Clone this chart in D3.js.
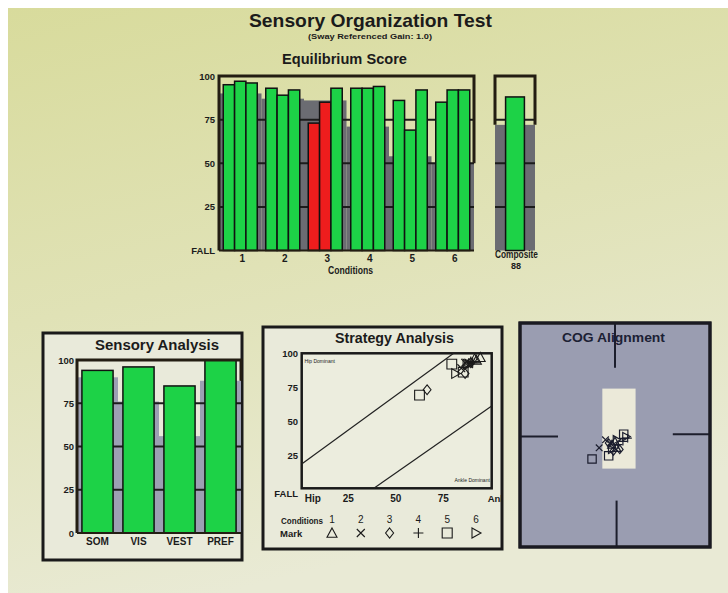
<!DOCTYPE html>
<html>
<head>
<meta charset="utf-8">
<script src="https://cdn.jsdelivr.net/npm/d3@7"></script>
<style>
  html, body { margin: 0; padding: 0; background: #fff; }
  svg { display: block; }
</style>
</head>
<body>
<script>

const conditions = ["1", "2", "3", "4", "5", "6"];
const trials = [0, 1, 2];
// equilibrium score per condition, 3 trials each
const eqScores = [
  [95, 97, 96], [93, 89, 92], [73, 85, 93],
  [93, 93, 94], [86, 69, 92], [85, 92, 92]
];
// normative limits (the grey steps)
const eqNorms = [90, 87, 86, 71, 54, 50];
const compositeScore = 88;
const compositeNorm = 72;
const scoreTicks = [0, 25, 50, 75, 100];
const scoreTickLabels = ["FALL", "25", "50", "75", "100"];

const sensoryLabels = ["SOM", "VIS", "VEST", "PREF"];
const sensoryScores = [94, 96, 85, 100];
const sensoryNorms = [90, 76, 56, 88];
const sensoryTickLabels = ["0", "25", "50", "75", "100"];

// strategy score (x) per condition / trial, y is the equilibrium score
const strategyScores = [
  [92, 94, 91], [86, 84, 88], [66, 86, 89],
  [88, 90, 89], [85, 62, 79], [81, 88, 87]
];
const strategyTickLabels = ["Hip", "25", "50", "75", "Ankle"];
const hipLine = [[0, 18], [80, 100]];
const ankleLine = [[38, 0], [100, 61]];
const markNames = ["triangle", "times", "diamond", "plus", "square", "right"];

// COG position per condition / trial
const cogXs = [
  [-0.2, 0.0, 0.1], [-0.6, -0.3, -1.0], [-0.4, 0.3, -0.1],
  [0.5, 0.8, 0.2], [-1.45, -0.4, 0.55], [0.7, 0.1, -0.2]
];
const cogYs = [
  [-0.6, -0.4, -0.8], [-0.3, -0.5, -0.8], [-0.5, -0.9, -1.0],
  [-0.4, -0.2, -0.6], [-1.5, -1.3, 0.05], [-0.1, -0.3, -0.9]
];
const cogNormalX = [-0.8, 1.3];
const cogNormalY = [-2.1, 2.9];

const W = 728, H = 593;
const ink = "#1b1b1b";
const green = "#1dd247";
const red = "#ee1d1d";
const narrow = "'Liberation Sans Narrow', 'Liberation Sans', Arial, sans-serif";
const bold = "'Liberation Sans', Arial, sans-serif";

let svg = null;

// open-marker shapes for d3.symbol
const symbolTypes = {
  triangle: { draw(c, s) { const r = Math.sqrt(s) / 2; c.moveTo(0, -r); c.lineTo(r, r * 0.85); c.lineTo(-r, r * 0.85); c.closePath(); } },
  times: { draw(c, s) { const r = Math.sqrt(s) / 2 * 0.8; c.moveTo(-r, -r); c.lineTo(r, r); c.moveTo(r, -r); c.lineTo(-r, r); } },
  diamond: { draw(c, s) { const r = Math.sqrt(s) / 2; c.moveTo(0, -r); c.lineTo(r * 0.8, 0); c.lineTo(0, r); c.lineTo(-r * 0.8, 0); c.closePath(); } },
  plus: { draw(c, s) { const r = Math.sqrt(s) / 2; c.moveTo(-r, 0); c.lineTo(r, 0); c.moveTo(0, -r); c.lineTo(0, r); } },
  square: { draw(c, s) { const r = Math.sqrt(s) / 2; c.rect(-r, -r, 2 * r, 2 * r); } },
  right: { draw(c, s) { const r = Math.sqrt(s) / 2; c.moveTo(-r * 0.8, -r); c.lineTo(r, 0); c.lineTo(-r * 0.8, r); c.closePath(); } }
};

appendSvg();
drawTitles();
drawEquilibrium();
drawComposite();
drawSensory();
drawStrategy();
drawCog();

function text(g, x, y, str, o) {
  o = o || {};
  const t = g.append("text")
    .attr("x", x).attr("y", y)
    .attr("text-anchor", o.anchor || "middle")
    .attr("font-family", o.family || narrow)
    .attr("font-weight", o.weight || "bold")
    .attr("font-size", o.size || 9)
    .attr("fill", o.fill || ink)
    .text(str);
  if (o.len) t.attr("textLength", o.len).attr("lengthAdjust", "spacingAndGlyphs");
  return t;
}

function appendSvg() {
  svg = d3.select("body").append("svg").attr("width", W).attr("height", H);
  const defs = svg.append("defs");
  const grad = defs.append("linearGradient").attr("id", "bg")
    .attr("x1", 0).attr("y1", 0).attr("x2", 0.3).attr("y2", 1);
  grad.append("stop").attr("offset", 0).attr("stop-color", "#d8db9c");
  grad.append("stop").attr("offset", 0.5).attr("stop-color", "#e0e2b6");
  grad.append("stop").attr("offset", 1).attr("stop-color", "#e9ead5");
  svg.append("rect").attr("width", W).attr("height", H).attr("fill", "#fff");
  svg.append("rect").attr("x", 8).attr("y", 8).attr("width", W - 8).attr("height", H - 8)
    .attr("fill", "url(#bg)");
}

function drawTitles() {
  text(svg, 370.5, 27, "Sensory Organization Test", { family: bold, size: 19, len: 243 });
  text(svg, 370, 38.5, "(Sway Referenced Gain: 1.0)", { family: narrow, size: 7.5, len: 124 });
  text(svg, 344.5, 64, "Equilibrium Score", { family: bold, size: 15, len: 125 });
}

function normSteps(g, x, y, norms, keys, left, right, fill) {
  // grey normative area: one step per band, split mid-gap
  const half = x.step() * x.paddingInner() / 2;
  g.append("g").selectAll("rect").data(keys).join("rect")
    .attr("x", (d, i) => i === 0 ? left : x(d) - half)
    .attr("width", (d, i) => {
      const x0 = i === 0 ? left : x(d) - half;
      const x1 = i === keys.length - 1 ? right : x(d) + x.bandwidth() + half;
      return x1 - x0;
    })
    .attr("y", (d, i) => y(norms[i]))
    .attr("height", (d, i) => y(0) - y(norms[i]))
    .attr("fill", fill);
}

function gridLines(g, y, left, right) {
  g.append("g").selectAll("line").data([25, 50, 75]).join("line")
    .attr("x1", left).attr("x2", right)
    .attr("y1", d => y(d)).attr("y2", d => y(d))
    .attr("stroke", "#1c1c1c").attr("stroke-width", 2);
}

function frame(g, y, left, right, lastNorm, w) {
  const sw = w || 3;
  g.append("path")
    .attr("d", `M${left},${y(0)} V${y(100)} H${right} V${y(lastNorm)}`)
    .attr("fill", "none").attr("stroke", "#231d12").attr("stroke-width", sw);
  g.append("line").attr("x1", left).attr("x2", right).attr("y1", y(0)).attr("y2", y(0))
    .attr("stroke", "#231d12").attr("stroke-width", 2);
}

function drawEquilibrium() {
  const g = svg.append("g");
  const left = 219, right = 474;
  const x = d3.scaleBand().domain(conditions).range([left, right]).paddingInner(0.2).paddingOuter(0.1);
  const xt = d3.scaleBand().domain(trials).range([0, x.bandwidth()]);
  const y = d3.scaleLinear().domain([0, 100]).range([250.5, 76]);

  normSteps(g, x, y, eqNorms, conditions, left, right, "#6b6c72");
  gridLines(g, y, left, right);

  conditions.forEach((c, ci) => {
    g.append("g").selectAll("rect").data(eqScores[ci]).join("rect")
      .attr("x", (d, i) => x(c) + xt(i))
      .attr("width", xt.bandwidth())
      .attr("y", d => y(d))
      .attr("height", d => y(0) - y(d))
      .attr("fill", d => d < eqNorms[ci] ? red : green)
      .attr("stroke", "#111").attr("stroke-width", 1.5);
  });

  frame(g, y, left, right, eqNorms[eqNorms.length - 1]);

  scoreTicks.forEach((t, i) => {
    text(g, 215, y(t) + 3.5, scoreTickLabels[i], { anchor: "end", size: 9.5 });
  });
  conditions.forEach(c => {
    text(g, x(c) + x.bandwidth() / 2 + 2, 262, c, { size: 10 });
  });
  text(g, 350.5, 274, "Conditions", { size: 10, len: 45 });
}

function drawComposite() {
  const g = svg.append("g");
  const left = 495, right = 535;
  const x = d3.scaleBand().domain(["Composite"]).range([left, right]).padding(0.36);
  const y = d3.scaleLinear().domain([0, 100]).range([250.5, 76]);

  g.append("rect").attr("x", left).attr("width", right - left)
    .attr("y", y(compositeNorm)).attr("height", y(0) - y(compositeNorm))
    .attr("fill", "#6b6c72");
  gridLines(g, y, left, right);
  g.append("rect").attr("x", x("Composite")).attr("width", x.bandwidth())
    .attr("y", y(compositeScore)).attr("height", y(0) - y(compositeScore))
    .attr("fill", green).attr("stroke", "#111").attr("stroke-width", 1.5);
  g.append("path")
    .attr("d", `M${left},${y(compositeNorm)} V${y(100)} H${right} V${y(compositeNorm)}`)
    .attr("fill", "none").attr("stroke", "#231d12").attr("stroke-width", 3);

  text(g, 516.5, 258, "Composite", { size: 10, len: 43 });
  text(g, 516, 269, String(compositeScore), { size: 9 });
}

function panel(x0, y0, x1, y1, fill) {
  return svg.append("rect").attr("x", x0).attr("y", y0)
    .attr("width", x1 - x0).attr("height", y1 - y0)
    .attr("fill", fill).attr("stroke", "#1a1a1a").attr("stroke-width", 3);
}

function drawSensory() {
  panel(43, 333, 242, 560, "#e9eada");
  const g = svg.append("g");
  text(g, 157, 350, "Sensory Analysis", { family: bold, size: 14, len: 124 });

  const left = 77, right = 241;
  const x = d3.scaleBand().domain(sensoryLabels).range([left, right]).paddingInner(0.24).paddingOuter(0.12);
  const y = d3.scaleLinear().domain([0, 100]).range([533, 360]);

  normSteps(g, x, y, sensoryNorms, sensoryLabels, left, right, "#9ca0b3");
  gridLines(g, y, left, right);

  g.append("g").selectAll("rect").data(sensoryLabels).join("rect")
    .attr("x", d => x(d)).attr("width", x.bandwidth())
    .attr("y", (d, i) => y(sensoryScores[i]))
    .attr("height", (d, i) => y(0) - y(sensoryScores[i]))
    .attr("fill", green).attr("stroke", "#111").attr("stroke-width", 1.5);

  frame(g, y, left, right, sensoryNorms[sensoryNorms.length - 1]);

  scoreTicks.forEach((t, i) => {
    text(g, 74, y(t) + 3.5, sensoryTickLabels[i], { anchor: "end", size: 9.5 });
  });
  sensoryLabels.forEach(d => {
    text(g, x(d) + x.bandwidth() / 2, 545, d, { size: 10 });
  });
}

function drawStrategy() {
  panel(263, 327, 502, 549, "#e9eada");
  const g = svg.append("g");
  text(g, 394.5, 343, "Strategy Analysis", { family: bold, size: 14, len: 119 });

  svg.select("defs").append("clipPath").attr("id", "stratClip")
    .append("rect").attr("x", 263).attr("y", 327).attr("width", 239).attr("height", 222);

  const x = d3.scaleLinear().domain([0, 100]).range([301.7, 491.7]);
  const y = d3.scaleLinear().domain([0, 100]).range([488.3, 353.3]);
  const line = d3.line().x(d => x(d[0])).y(d => y(d[1]));

  g.append("rect").attr("x", x(0)).attr("y", y(100))
    .attr("width", x(100) - x(0)).attr("height", y(0) - y(100))
    .attr("fill", "#ecedde").attr("stroke", "#1a1a1a").attr("stroke-width", 2.5);

  [hipLine, ankleLine].forEach(l => {
    g.append("path").attr("d", line(l)).attr("fill", "none")
      .attr("stroke", "#222").attr("stroke-width", 1.2);
  });
  text(g, x(1.5), y(92.5), "Hip Dominant", { anchor: "start", size: 5, weight: "normal" });
  text(g, x(99), y(5), "Ankle Dominant", { anchor: "end", size: 5, weight: "normal" });

  // trial markers
  conditions.forEach((c, ci) => {
    const sym = d3.symbol().type(symbolTypes[markNames[ci]]).size(95);
    g.append("g").selectAll("path").data(trials).join("path")
      .attr("transform", t => `translate(${x(strategyScores[ci][t])},${y(eqScores[ci][t])})`)
      .attr("d", sym)
      .attr("fill", "none").attr("stroke", "#1a1a1a").attr("stroke-width", 1.1);
  });

  // axis labels
  scoreTicks.forEach((t, i) => {
    const ty = t === 0 ? 497 : y(t) + 4;
    text(g, 298, ty, scoreTickLabels[i], { anchor: "end", size: 9.5 });
  });
  // "Ankle" runs off the panel edge in the original, so it is clipped
  const xl = g.append("g").attr("clip-path", "url(#stratClip)");
  scoreTicks.forEach((t, i) => {
    if (i === 0) text(xl, x(t) + 3, 502, strategyTickLabels[i], { anchor: "start", size: 10 });
    else if (i === 4) text(xl, x(t) - 4, 502, strategyTickLabels[i], { anchor: "start", size: 9.5 });
    else text(xl, x(t) - 1, 502, strategyTickLabels[i], { size: 10 });
  });

  // legend: condition number + mark
  const lx = d3.scalePoint().domain(conditions).range([332, 476]);
  text(g, 281, 524, "Conditions", { anchor: "start", size: 9.5, len: 42 });
  text(g, 280, 537, "Mark", { anchor: "start", size: 9.5 });
  conditions.forEach((c, ci) => {
    text(g, lx(c), 523, c, { size: 10, weight: "normal" });
    g.append("path")
      .attr("transform", `translate(${lx(c)},${533})`)
      .attr("d", d3.symbol().type(symbolTypes[markNames[ci]]).size(100))
      .attr("fill", "none").attr("stroke", "#1a1a1a").attr("stroke-width", 1.1);
  });
}

function drawCog() {
  panel(520, 323, 710, 547, "#9a9db1");
  const g = svg.append("g");
  const x = d3.scaleLinear().domain([-6, 6]).range([520, 710]);
  const y = d3.scaleLinear().domain([-7, 7]).range([547, 323]);

  // cross hair ticks
  const cross = [
    [[0, 7], [0, 4.2]], [[0.1, -4.1], [0.1, -7]],
    [[-6, -0.1], [-3.6, -0.1]], [[3.65, 0.05], [6, 0.05]]
  ];
  const line = d3.line().x(d => x(d[0])).y(d => y(d[1]));
  g.selectAll("path.cross").data(cross).join("path").attr("class", "cross")
    .attr("d", line).attr("stroke", "#1c1e2c").attr("stroke-width", 2);

  g.append("rect")
    .attr("x", x(cogNormalX[0])).attr("width", x(cogNormalX[1]) - x(cogNormalX[0]))
    .attr("y", y(cogNormalY[1])).attr("height", y(cogNormalY[0]) - y(cogNormalY[1]))
    .attr("fill", "#ebe9d9");

  text(g, 613.5, 342, "COG Alignment", { family: bold, size: 13, len: 103, fill: "#1c2135" });

  conditions.forEach((c, ci) => {
    const sym = d3.symbol().type(symbolTypes[markNames[ci]]).size(70);
    g.append("g").selectAll("path").data(trials).join("path")
      .attr("transform", t => `translate(${x(cogXs[ci][t])},${y(cogYs[ci][t])})`)
      .attr("d", sym)
      .attr("fill", "none").attr("stroke", "#1b1d2e").attr("stroke-width", 1.2);
  });

  // outline again on top
  g.append("rect").attr("x", 520).attr("y", 323).attr("width", 190).attr("height", 224)
    .attr("fill", "none").attr("stroke", "#1a1a22").attr("stroke-width", 3);
}
</script>
</body>
</html>
